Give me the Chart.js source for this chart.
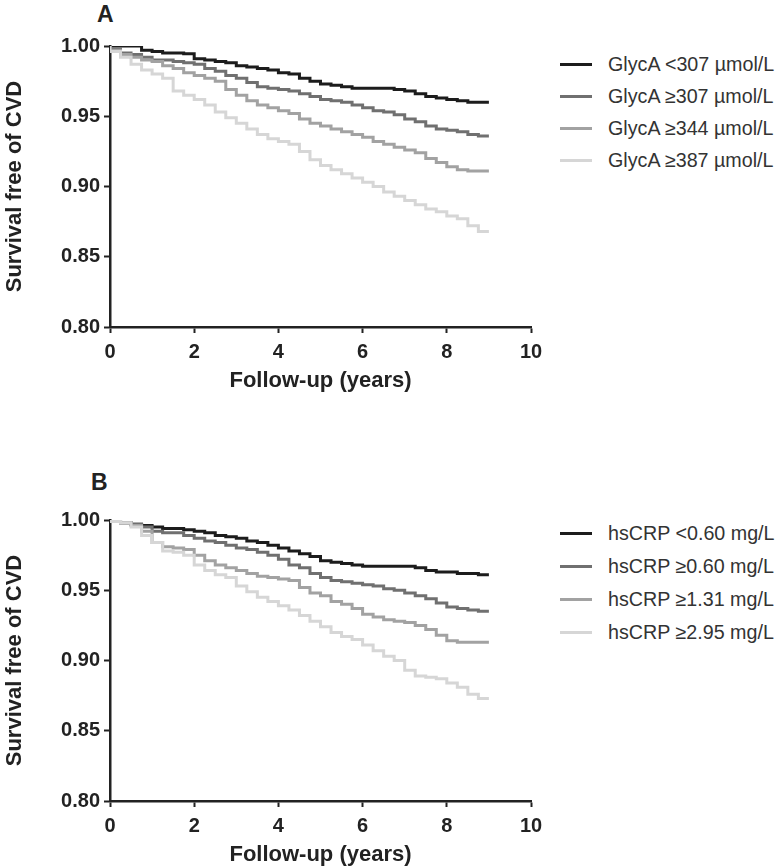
<!DOCTYPE html>
<html>
<head>
<meta charset="utf-8">
<script src="https://cdn.jsdelivr.net/npm/chart.js@4/dist/chart.umd.min.js"></script>
<style>
  html, body { margin: 0; padding: 0; background: #fff; overflow: hidden; }
  body { width: 775px; height: 868px; position: relative; font-family: "Liberation Sans", Arial, sans-serif; }
  .panel { position: absolute; left: 0; width: 775px; height: 400px; }
  .panel canvas { position: absolute; left: 0; top: 0; }
  .tag { position: absolute; font-weight: bold; font-size: 23px; color: #222; }
  .legend { position: absolute; left: 560px; }
  .legend-row { display: flex; align-items: center; }
  .legend-line { width: 32px; height: 3px; margin-right: 16px; }
  .legend-text { font-size: 19.7px; color: #333; white-space: nowrap; }
</style>
</head>
<body>
<div class="panel" id="panelA" style="top:0px">
  <div class="tag" style="left:97px; top:1px">A</div>
  <canvas id="chartA" width="560" height="400"></canvas>
  <div class="legend" id="legendA" style="top:48px"></div>
</div>
<div class="panel" id="panelB" style="top:474px">
  <div class="tag" style="left:91px; top:-5px">B</div>
  <canvas id="chartB" width="560" height="400"></canvas>
  <div class="legend" id="legendB" style="top:43px"></div>
</div>
<script>
// follow-up time grid (years)
const years = [0, 0.25, 0.5, 0.75, 1, 1.25, 1.5, 1.75, 2, 2.25, 2.5, 2.75, 3, 3.25, 3.5, 3.75,
  4, 4.25, 4.5, 4.75, 5, 5.25, 5.5, 5.75, 6, 6.25, 6.5, 6.75, 7, 7.25, 7.5, 7.75,
  8, 8.25, 8.5, 8.75, 9];

// panel A - GlycA groups
const glycaLabels = ["GlycA <307 µmol/L", "GlycA ≥307 µmol/L", "GlycA ≥344 µmol/L", "GlycA ≥387 µmol/L"];
const glyca1 = [1, 1, 1, 1, 0.997, 0.996, 0.995, 0.995, 0.9945, 0.991, 0.990, 0.989, 0.988, 0.986, 0.985, 0.984,
  0.983, 0.981, 0.980, 0.977, 0.975, 0.973, 0.972, 0.971, 0.970, 0.970, 0.970, 0.970, 0.969, 0.968, 0.966, 0.964,
  0.963, 0.962, 0.961, 0.960, 0.960];
const glyca2 = [1, 0.998, 0.995, 0.994, 0.992, 0.990, 0.990, 0.989, 0.988, 0.987, 0.984, 0.982, 0.979, 0.977, 0.974, 0.971,
  0.970, 0.969, 0.968, 0.966, 0.964, 0.962, 0.961, 0.960, 0.958, 0.956, 0.954, 0.953, 0.951, 0.948, 0.946, 0.943,
  0.941, 0.940, 0.939, 0.937, 0.936];
const glyca3 = [1, 0.997, 0.994, 0.992, 0.990, 0.989, 0.986, 0.984, 0.981, 0.979, 0.977, 0.975, 0.969, 0.965, 0.961, 0.958,
  0.956, 0.954, 0.952, 0.948, 0.945, 0.943, 0.941, 0.939, 0.937, 0.935, 0.932, 0.930, 0.928, 0.926, 0.924, 0.920,
  0.917, 0.914, 0.912, 0.911, 0.911];
const glyca4 = [1, 0.996, 0.992, 0.987, 0.983, 0.980, 0.977, 0.968, 0.965, 0.962, 0.958, 0.953, 0.949, 0.945, 0.941, 0.937,
  0.934, 0.932, 0.930, 0.925, 0.919, 0.915, 0.912, 0.909, 0.906, 0.903, 0.900, 0.896, 0.893, 0.890, 0.887, 0.884,
  0.882, 0.879, 0.877, 0.872, 0.868];

// panel B - hsCRP groups
const crpLabels = ["hsCRP <0.60 mg/L", "hsCRP ≥0.60 mg/L", "hsCRP ≥1.31 mg/L", "hsCRP ≥2.95 mg/L"];
const crp1 = [1, 0.999, 0.998, 0.997, 0.996, 0.995, 0.994, 0.994, 0.993, 0.992, 0.991, 0.989, 0.988, 0.987, 0.985, 0.984,
  0.982, 0.980, 0.978, 0.976, 0.974, 0.971, 0.970, 0.969, 0.968, 0.967, 0.967, 0.967, 0.967, 0.967, 0.966, 0.964,
  0.963, 0.963, 0.962, 0.962, 0.961];
const crp2 = [1, 0.999, 0.998, 0.997, 0.995, 0.992, 0.991, 0.991, 0.989, 0.987, 0.985, 0.984, 0.982, 0.980, 0.979, 0.977,
  0.975, 0.972, 0.968, 0.966, 0.962, 0.959, 0.957, 0.956, 0.955, 0.954, 0.953, 0.951, 0.950, 0.948, 0.946, 0.944,
  0.941, 0.938, 0.937, 0.936, 0.935];
const crp3 = [1, 0.999, 0.998, 0.996, 0.992, 0.984, 0.981, 0.980, 0.979, 0.975, 0.971, 0.968, 0.966, 0.964, 0.962, 0.960,
  0.959, 0.958, 0.957, 0.952, 0.948, 0.946, 0.942, 0.940, 0.937, 0.933, 0.931, 0.929, 0.928, 0.927, 0.925, 0.922,
  0.918, 0.914, 0.913, 0.913, 0.913];
const crp4 = [1, 0.999, 0.998, 0.995, 0.989, 0.984, 0.978, 0.977, 0.975, 0.968, 0.964, 0.961, 0.959, 0.953, 0.949, 0.945,
  0.942, 0.939, 0.936, 0.932, 0.928, 0.924, 0.920, 0.917, 0.915, 0.911, 0.907, 0.903, 0.900, 0.893, 0.889, 0.888,
  0.887, 0.884, 0.881, 0.876, 0.873];

const lineColors = ["#1c1c1c", "#707070", "#a2a2a2", "#d6d6d6"];
const xTicks = [0, 2, 4, 6, 8, 10];
const yTicks = [0.80, 0.85, 0.90, 0.95, 1.00];

const fontFamily = '"Liberation Sans", Arial, sans-serif';
const axisColor = "#222";

function toPoints(values) {
  return values.map((v, i) => ({ x: years[i], y: v }));
}

function renderLegend(targetId, labels, rowHeight) {
  const target = document.getElementById(targetId);
  target.innerHTML = labels
    .map(
      (label, i) => `
        <div class="legend-row" style="height:${rowHeight}px">
          <div class="legend-line" style="background:${lineColors[i]}"></div>
          <div class="legend-text">${label}</div>
        </div>`,
    )
    .join("");
}

function renderPanel(canvasId, labels, series) {
  const ctx = document.getElementById(canvasId);
  return new Chart(ctx, {
    type: "line",
    data: {
      datasets: series.map((values, i) => ({
        label: labels[i],
        data: toPoints(values),
        borderColor: lineColors[i],
        borderWidth: 3,
        pointRadius: 0,
        stepped: "after",
        fill: false,
        order: series.length - i,
      })),
    },
    options: {
      responsive: false,
      animation: false,
      devicePixelRatio: 1,
      layout: { padding: { top: 46, right: 29, left: 0, bottom: 0 } },
      plugins: { legend: { display: false }, tooltip: { enabled: false } },
      scales: {
        x: {
          type: "linear",
          min: 0,
          max: 10,
          afterFit: (scale) => { scale.height = 73; },
          afterBuildTicks: (scale) => { scale.ticks = xTicks.map((v) => ({ value: v })); },
          border: { display: true, color: axisColor, width: 2.5 },
          grid: { drawOnChartArea: false, drawTicks: true, tickLength: 6, tickWidth: 2, tickColor: axisColor },
          ticks: { color: "#222", padding: 7, font: { family: fontFamily, size: 20, weight: "bold" } },
          title: {
            display: true,
            text: "Follow-up (years)",
            color: "#222",
            padding: { top: 0, bottom: 6 },
            font: { family: fontFamily, size: 22, weight: "bold" },
          },
        },
        y: {
          min: 0.8,
          max: 1.0,
          afterFit: (scale) => { scale.width = 110; },
          afterBuildTicks: (scale) => { scale.ticks = yTicks.map((v) => ({ value: v })); },
          border: { display: true, color: axisColor, width: 2.5 },
          grid: { drawOnChartArea: false, drawTicks: true, tickLength: 6, tickWidth: 2, tickColor: axisColor },
          ticks: {
            color: "#222",
            padding: 4,
            font: { family: fontFamily, size: 20, weight: "bold" },
            callback: (value) => value.toFixed(2),
          },
          title: {
            display: true,
            text: "Survival free of CVD",
            color: "#222",
            padding: { top: 2, bottom: 0 },
            font: { family: fontFamily, size: 22, weight: "bold" },
          },
        },
      },
    },
  });
}

renderPanel("chartA", glycaLabels, [glyca1, glyca2, glyca3, glyca4]);
renderPanel("chartB", crpLabels, [crp1, crp2, crp3, crp4]);
renderLegend("legendA", glycaLabels, 32);
renderLegend("legendB", crpLabels, 33);
</script>
</body>
</html>
